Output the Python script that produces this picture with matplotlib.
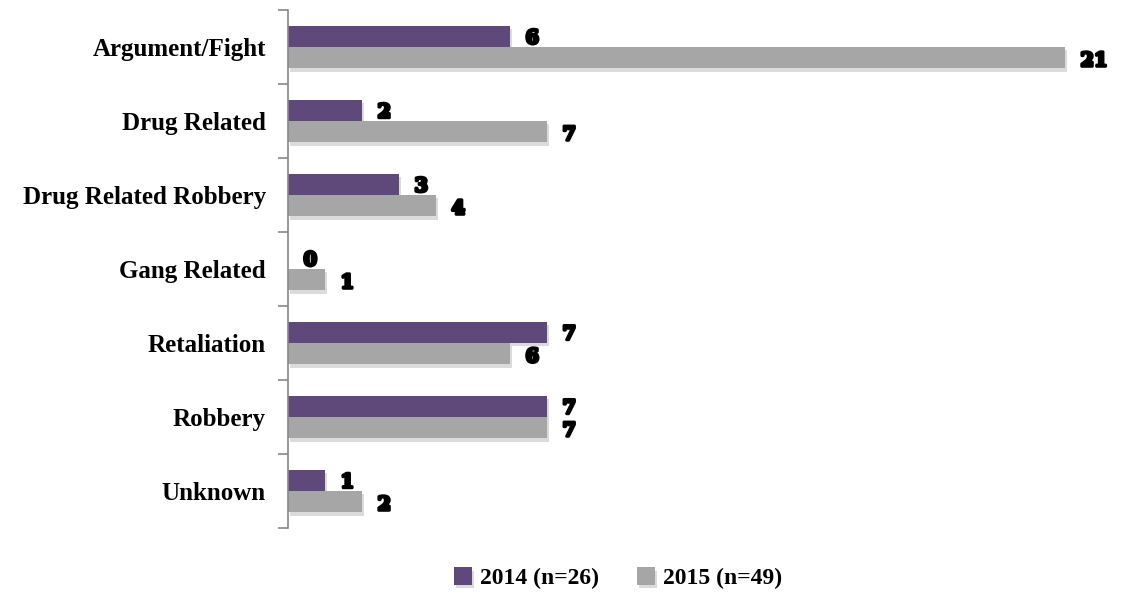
import matplotlib.pyplot as plt
import matplotlib.patheffects as pe
import numpy as np

# motive counts by year
categories = ["Argument/Fight", "Drug Related", "Drug Related Robbery",
              "Gang Related", "Retaliation", "Robbery", "Unknown"]
counts_2014 = [6, 2, 3, 0, 7, 7, 1]
counts_2015 = [21, 7, 4, 1, 6, 7, 2]
series_labels = ["2014 (n=26)", "2015 (n=49)"]

purple = "#5F497A"
gray = "#A6A6A6"

fig = plt.figure(figsize=(11.28, 5.93), dpi=100)
ax = fig.add_axes([0.2553, 0.1096, 0.7216, 0.8735])

y = np.arange(len(categories))
h = 0.285
shadow = [pe.SimplePatchShadow(offset=(1.5, -2.5), shadow_rgbFace="#888888", alpha=0.3), pe.Normal()]

b1 = ax.barh(y - h / 2, counts_2014, height=h, color=purple, label=series_labels[0])
b2 = ax.barh(y + h / 2, counts_2015, height=h, color=gray, label=series_labels[1])
for bar in list(b1) + list(b2):
    bar.set_path_effects(shadow)

# value labels in heavy black type
lab_fx = [pe.withStroke(linewidth=2.2, foreground="black")]
for yy, v in zip(y - h / 2, counts_2014):
    ax.text(v + 0.42, yy + 0.03, str(v), ha="left", va="center", fontsize=14,
            fontweight="bold", family="DejaVu Serif", color="black", path_effects=lab_fx)
for yy, v in zip(y + h / 2, counts_2015):
    ax.text(v + 0.42, yy + 0.05, str(v), ha="left", va="center", fontsize=14,
            fontweight="bold", family="DejaVu Serif", color="black", path_effects=lab_fx)

ax.set_xlim(0, 22)
ax.set_ylim(len(categories) - 0.5, -0.5)
ax.set_xticks([])
ax.set_yticks(y)
ax.set_yticklabels(categories, fontsize=18, fontweight="bold", family="Liberation Serif")
ax.tick_params(axis="y", length=0, pad=16)
# boundary ticks between categories
ax.set_yticks(np.arange(len(categories) + 1) - 0.5, minor=True)
ax.tick_params(axis="y", which="minor", length=7, color="#888888", width=1.2, direction="out")

for s in ["top", "right", "bottom"]:
    ax.spines[s].set_visible(False)
ax.spines["left"].set_color("#888888")
ax.spines["left"].set_linewidth(1.2)

fig.legend(handles=[b1, b2], loc="center", bbox_to_anchor=(0.548, 0.025), ncol=2,
           frameon=False, handlelength=0.75, handleheight=0.75, handletextpad=0.35,
           columnspacing=1.6, prop={"family": "Liberation Serif", "weight": "bold", "size": 17})

fig.savefig("out.png", dpi=100)
